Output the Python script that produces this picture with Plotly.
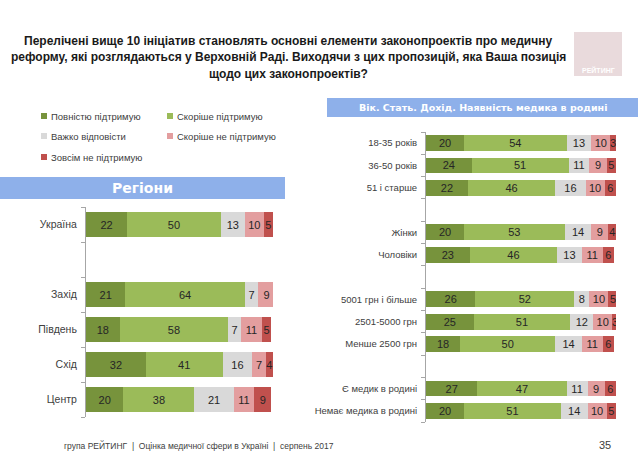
import plotly.graph_objects as go

W, H = 638, 456

series = ["Повністю підтримую", "Скоріше підтримую", "Важко відповісти",
          "Скоріше не підтримую", "Зовсім не підтримую"]
colors = ["#77933c", "#9bbb59", "#d9d9d9", "#e39e9f", "#c0504d"]

# left panel: regions ("" = empty row)
left_rows = ["Україна", "", "Захід", "Південь", "Схід", "Центр"]
left_full = [22, 21, 18, 32, 20]
left_rather = [50, 64, 58, 41, 38]
left_hard = [13, 7, 7, 16, 21]
left_rather_not = [10, 9, 11, 7, 11]
left_not = [5, None, 5, 4, 9]

# right panel: age, sex, income, medic in family
right_rows = ["18-35 років", "36-50 років", "51 і старше", "",
              "Жінки", "Чоловіки", "",
              "5001 грн і більше", "2501-5000 грн", "Менше 2500 грн", "",
              "Є медик в родині", "Немає медика в родині"]
right_full = [20, 24, 22, 20, 23, 26, 25, 18, 27, 20]
right_rather = [54, 51, 46, 53, 46, 52, 51, 50, 47, 51]
right_hard = [13, 11, 16, 14, 13, 8, 12, 14, 11, 14]
right_rather_not = [10, 9, 10, 9, 11, 10, 10, 11, 9, 10]
right_not = [3, 5, 6, 4, 6, 5, 3, 6, 6, 5]

FONT = "Liberation Sans, Arial"
HEAVY = "DejaVu Sans"

fig = go.Figure()


def add_panel(rows, values, xa, ya):
    ys = [i for i, r in enumerate(rows) if r]
    for name, col, vals in zip(series, colors, values):
        fig.add_trace(go.Bar(
            y=ys, x=vals, name=name, orientation="h",
            marker=dict(color=col, line=dict(width=0)),
            text=[str(v) if v else "" for v in vals],
            textposition="inside", insidetextanchor="middle", textangle=0,
            textfont=dict(size=11, color="#262626", family=FONT),
            xaxis=xa, yaxis=ya, showlegend=False, hoverinfo="skip",
        ))
    return ys


ly = add_panel(left_rows, [left_full, left_rather, left_hard, left_rather_not, left_not], "x", "y")
ry = add_panel(right_rows, [right_full, right_rather, right_hard, right_rather_not, right_not], "x2", "y2")


def px(v):
    return v / W


def py(v):
    return 1 - v / H


def yaxis_cfg(rows, ys, top, bottom, fsize):
    n = len(rows)
    return dict(
        domain=[py(bottom), py(top)], range=[n - 0.5, -0.5], autorange=False,
        tickvals=ys, ticktext=[r for r in rows if r], ticks="", ticklabelstandoff=6,
        tickfont=dict(size=fsize, color="#404040", family=FONT),
        showline=True, linecolor="#a6a6a6", linewidth=1, showgrid=False, zeroline=False,
        minor=dict(tickvals=[i - 0.5 for i in range(n + 1)], ticks="outside",
                   ticklen=4, tickcolor="#a6a6a6", showgrid=False),
        fixedrange=True,
    )


fig.update_layout(
    width=W, height=H, margin=dict(l=0, r=0, t=0, b=0),
    paper_bgcolor="white", plot_bgcolor="rgba(0,0,0,0)",
    barmode="stack", bargap=0.29,
    uniformtext=dict(minsize=11, mode="show"),
    xaxis=dict(domain=[px(86), px(273)], range=[0, 100], visible=False, anchor="y"),
    yaxis=dict(anchor="x", **yaxis_cfg(left_rows, ly, 207, 417, 10.5)),
    xaxis2=dict(domain=[px(426), px(616)], range=[0, 100], visible=False, anchor="y2"),
    yaxis2=dict(anchor="x2", **yaxis_cfg(right_rows, ry, 132, 422, 9.5)),
)

shapes = []
annotations = []


def note(x, y, text, size, color, family, xanchor="center"):
    annotations.append(dict(x=px(x), y=py(y), xref="paper", yref="paper", text=text,
                            showarrow=False, xanchor=xanchor, yanchor="middle",
                            font=dict(size=size, color=color, family=family)))


def box(x0, y0, x1, y1, color):
    shapes.append(dict(type="rect", xref="paper", yref="paper", x0=px(x0), x1=px(x1),
                       y0=py(y1), y1=py(y0), fillcolor=color, line=dict(width=0)))


# title
title_lines = [
    "Перелічені вище 10 ініціатив становлять основні елементи законопроектів про медичну",
    "реформу, які розглядаються у Верховній Раді. Виходячи з цих пропозицій, яка Ваша позиція",
    "щодо цих законопроектів?",
]
for i, line in enumerate(title_lines):
    note(288, 41 + 16.3 * i, "<b>%s</b>" % line, 12, "#1a1a1a", FONT)

# logo
box(574, 32, 622, 76, "#e9dadc")
note(598, 70, "<b>РЕЙТИНГ</b>", 7, "white", FONT)

# section headers
box(0, 177, 285, 199, "#8eb0ea")
note(142, 188, "<b>Регіони</b>", 14, "white", HEAVY)
box(327, 98, W, 117, "#8eb0ea")
note(483, 107.5, "<b>Вік. Стать. Дохід. Наявність медика в родині</b>", 9.5, "white", HEAVY)

# legend
legend_pos = [(44, 116), (170, 116), (44, 136), (170, 136), (44, 157)]
for (lx, lyy), name, col in zip(legend_pos, series, colors):
    box(lx - 3, lyy - 3, lx + 3, lyy + 3, col)
    note(lx + 5, lyy, name, 9.5, "#404040", FONT, xanchor="left")

# footer
note(62, 445, "група РЕЙТИНГ  |  Оцінка медичної сфери в Україні  |  серпень 2017",
     8.5, "#404040", FONT, xanchor="left")
note(613, 445, "35", 11, "#404040", FONT, xanchor="right")

fig.update_layout(shapes=shapes, annotations=annotations)
fig.write_html("out.html", config={"displayModeBar": False},
               post_script="document.body.style.margin='0';")
